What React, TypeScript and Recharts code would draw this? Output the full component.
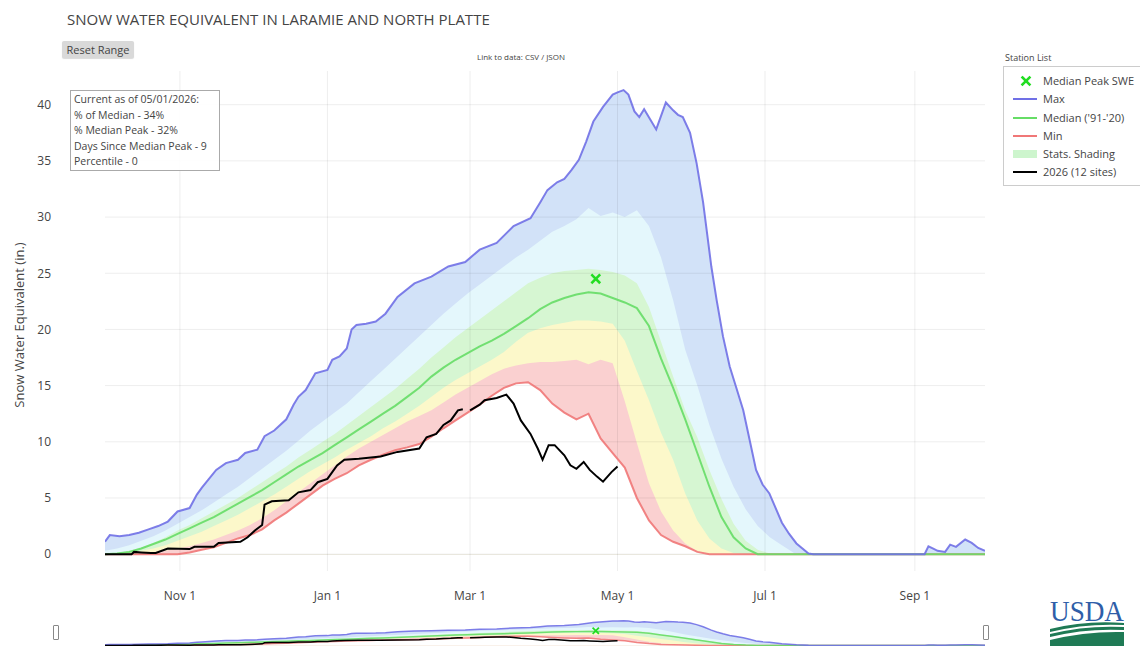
import React from 'react';
import { ComposedChart, Area, Line, Scatter, XAxis, YAxis, ReferenceLine } from 'recharts';

// ---- x: day index from Oct 1 ----
const tickDays = [31, 92, 151, 212, 273, 335];
const tickLabels = ['Nov 1', 'Jan 1', 'Mar 1', 'May 1', 'Jul 1', 'Sep 1'];
const yTicks = [0, 5, 10, 15, 20, 25, 30, 35, 40];

const statDays = [0,5,10,15,20,25,30,35,40,45,50,55,60,65,70,75,80,85,90,95,100,105,110,115,120,125,130,135,140,145,150,155,160,165,170,175,180,185,190,195,200,205,210,215,220,225,230,235,240,245,250,255,260,265,270,275,280,285,290,295,300,305,310,315,320,325,330,335,340,345,350,355,360,364];

const medianVals = [0,0.05,0.2,0.5,0.9,1.3,1.8,2.3,2.8,3.3,3.9,4.5,5.1,5.7,6.4,7.1,7.8,8.4,9.0,9.7,10.4,11.1,11.8,12.5,13.2,14.0,14.8,15.8,16.6,17.3,17.9,18.5,19.0,19.6,20.3,21.0,21.8,22.4,22.8,23.1,23.3,23.2,22.8,22.4,21.9,20.3,17.4,14.8,12.0,9.0,6.0,3.3,1.5,0.5,0,0,0,0,0,0,0,0,0,0,0,0,0,0,0,0,0,0,0,0];
const minVals = [0,0,0,0,0,0,0,0.15,0.4,0.6,1.0,1.4,1.7,2.2,3.0,3.7,4.5,5.3,6.1,6.7,7.2,7.9,8.4,8.85,9.25,9.5,9.8,10.45,11.2,11.9,12.6,13.3,14.1,14.8,15.2,15.3,14.6,13.4,12.6,12.0,12.5,10.3,9.0,7.7,5.0,3.0,1.7,1.1,0.7,0.2,0,0,0,0,0,0,0,0,0,0,0,0,0,0,0,0,0,0,0,0,0,0,0,0];
const p10Vals = [0,0,0.05,0.1,0.2,0.3,0.5,0.7,1.0,1.3,1.7,2.1,2.6,3.2,3.9,4.7,5.5,6.3,7.1,7.9,8.7,9.4,10.0,10.6,11.2,11.8,12.3,12.8,13.5,14.2,14.8,15.4,16.0,16.5,16.8,17.0,17.1,17.1,17.2,17.3,16.9,17.3,17.0,13.6,9.9,6.3,3.8,2.1,0.95,0.25,0,0,0,0,0,0,0,0,0,0,0,0,0,0,0,0,0,0,0,0,0,0,0,0];
const p30Vals = [0,0,0.1,0.3,0.5,0.8,1.2,1.6,2.0,2.5,3.0,3.5,4.1,4.7,5.3,6.0,6.7,7.4,8.0,8.6,9.3,9.9,10.5,11.2,11.8,12.5,13.2,14.0,14.8,15.5,16.1,16.7,17.3,18.0,18.9,19.7,20.1,20.4,20.6,20.8,20.8,20.7,20.5,19.0,16.3,13.7,10.8,8.4,5.4,3.0,1.4,0.5,0.1,0,0,0,0,0,0,0,0,0,0,0,0,0,0,0,0,0,0,0,0,0];
const p70Vals = [0.05,0.1,0.3,0.6,1.0,1.5,2.1,2.6,3.2,3.8,4.4,5.0,5.7,6.4,7.1,7.8,8.6,9.3,10.0,10.7,11.5,12.3,13.1,13.9,14.7,15.6,16.5,17.5,18.4,19.3,20.1,20.9,21.7,22.5,23.3,24.1,24.6,25.0,25.2,25.3,25.4,25.3,25.1,24.8,24.1,22.0,18.9,15.8,12.8,10.4,7.5,4.9,2.7,1.2,0.4,0.05,0,0,0,0,0,0,0,0,0,0,0,0,0,0,0,0,0,0];
const p90Vals = [0.3,0.5,0.8,1.2,1.6,2.1,2.7,3.3,3.9,4.6,5.3,6.0,6.8,7.6,8.4,9.2,10.1,11.0,11.8,12.6,13.4,14.4,15.4,16.4,17.4,18.4,19.4,20.4,21.4,22.3,23.2,24.0,24.8,25.6,26.4,27.1,27.9,28.7,29.2,29.8,30.8,30.1,30.4,30.0,30.6,29.2,26.4,22.6,18.2,15.0,11.5,8.5,6.0,4.0,2.5,1.5,0.8,0.1,0,0,0,0,0,0,0,0,0,0,0,0,0,0,0,0];

const maxDays = [0,2,6,10,14,18,22,26,30,35,38,40,43,46,50,55,58,63,66,70,75,78,80,83,87,92,94,97,100,102,104,108,112,116,121,128,135,142,149,155,162,169,176,180,183,187,190,193,196,199,202,206,210,212,214.5,216.5,219,221,223,228,232,235,237,239,242,244.7,247.4,250.8,253,255.6,258.4,261,264,266.6,269.3,272,274.8,280,283,286,291,293,339,340.6,342.6,344.4,347.5,349.6,352,355.8,358.5,361.2,364];
const maxVals = [1.1,1.7,1.6,1.7,1.9,2.2,2.5,2.9,3.8,4.1,5.3,5.9,6.7,7.5,8.1,8.4,9.0,9.3,10.5,11.0,12.0,13.3,14.0,14.6,16.1,16.4,17.3,17.6,18.3,20.0,20.4,20.5,20.7,21.4,22.9,24.1,24.7,25.6,26.0,27.1,27.7,29.2,29.9,31.3,32.4,33.1,33.4,34.2,35.1,36.7,38.5,39.8,40.9,41.1,41.3,40.9,39.4,38.9,39.6,37.8,40.2,39.5,39.1,38.9,37.5,34.8,31.3,25.6,22.6,19.4,16.7,14.9,12.8,10.2,7.5,6.2,5.4,2.8,1.8,0.95,0.06,0,0,0.7,0.5,0.3,0.2,0.85,0.65,1.3,1.0,0.55,0.3];

const curDays = [0,11,12,15,19,21,26,35,37,45,47,56,59,62,65,66,69,76,80,85,88,92,94,96,99,105,114,121,130,133,137,140,143,146,148,149.5,151,155,157,162,166,169,172,176,179,181,183.5,186,190,192.5,195,198,200.5,203.5,206,209.5,212];
const curVals: (number | null)[] = [0,0,0.2,0.15,0.1,0.1,0.5,0.45,0.65,0.65,1.0,1.1,1.5,2.1,2.6,4.4,4.7,4.8,5.5,5.7,6.4,6.7,7.3,7.9,8.4,8.5,8.7,9.1,9.4,10.4,10.7,11.5,11.9,12.8,12.9,null,12.8,13.3,13.7,13.9,14.2,13.4,11.9,10.7,9.4,8.4,9.7,9.7,8.8,7.9,7.6,8.2,7.5,6.9,6.45,7.3,7.8];

const peakDay = [203];
const peakVal = [24.5];

const infoLines = ['Current as of 05/01/2026:', '% of Median - 34%', '% Median Peak - 32%', 'Days Since Median Peak - 9', 'Percentile - 0'];

const C = {
  max: '#7070e6',
  median: '#66dd66',
  min: '#f07777',
  cur: '#000000',
  peak: '#22dd22',
  bMax: '#d2e2f8',
  b90: '#e4f7fc',
  b70: '#d6f6d2',
  b30: '#fcf8ca',
  b10: '#fad0d0',
  text: '#444',
};

const rows = (xs: number[], ys: (number | null)[]) => xs.map((d, i) => ({ d, v: ys[i] }));

const XMark = (props: any) => {
  const { cx, cy, s = 3.5, w = 2.6 } = props;
  if (cx == null || cy == null) return null;
  return (
    <g stroke={C.peak} strokeWidth={w} strokeLinecap="square">
      <line x1={cx - s} y1={cy - s} x2={cx + s} y2={cy + s} />
      <line x1={cx - s} y1={cy + s} x2={cx + s} y2={cy - s} />
    </g>
  );
};
const XMarkSmall = (props: any) => <XMark {...props} s={2.5} w={1.8} />;

const bandAreas = (key: string) => [
  <Area key={key + 'a1'} data={rows(maxDays, maxVals)} dataKey="v" type="linear" baseValue={0} stroke="none" fill={C.bMax} fillOpacity={1} isAnimationActive={false} activeDot={false} />,
  <Area key={key + 'a2'} data={rows(statDays, p90Vals)} dataKey="v" type="linear" baseValue={0} stroke="none" fill={C.b90} fillOpacity={1} isAnimationActive={false} activeDot={false} />,
  <Area key={key + 'a3'} data={rows(statDays, p70Vals)} dataKey="v" type="linear" baseValue={0} stroke="none" fill={C.b70} fillOpacity={1} isAnimationActive={false} activeDot={false} />,
  <Area key={key + 'a4'} data={rows(statDays, p30Vals)} dataKey="v" type="linear" baseValue={0} stroke="none" fill={C.b30} fillOpacity={1} isAnimationActive={false} activeDot={false} />,
  <Area key={key + 'a5'} data={rows(statDays, p10Vals)} dataKey="v" type="linear" baseValue={0} stroke="none" fill={C.b10} fillOpacity={1} isAnimationActive={false} activeDot={false} />,
  <Area key={key + 'a6'} data={rows(statDays, minVals)} dataKey="v" type="linear" baseValue={0} stroke="none" fill="#ffffff" fillOpacity={1} isAnimationActive={false} activeDot={false} />,
];

const seriesLines = (key: string, w: number) => [
  <Line key={key + 'l1'} data={rows(statDays, minVals)} dataKey="v" type="linear" stroke={C.min} strokeWidth={w} strokeOpacity={0.9} dot={false} activeDot={false} isAnimationActive={false} />,
  <Line key={key + 'l2'} data={rows(statDays, medianVals)} dataKey="v" type="linear" stroke={C.median} strokeWidth={w} strokeOpacity={0.9} dot={false} activeDot={false} isAnimationActive={false} />,
  <Line key={key + 'l3'} data={rows(maxDays, maxVals)} dataKey="v" type="linear" stroke={C.max} strokeWidth={w} strokeOpacity={0.9} dot={false} activeDot={false} isAnimationActive={false} />,
  <Line key={key + 'l4'} data={rows(curDays, curVals)} dataKey="v" type="linear" stroke={C.cur} strokeWidth={w} connectNulls={false} dot={false} activeDot={false} isAnimationActive={false} />,
];

const legendItems = [
  { label: 'Median Peak SWE', kind: 'x' },
  { label: 'Max', kind: 'line', color: C.max, w: 2 },
  { label: "Median ('91-'20)", kind: 'line', color: C.median, w: 2 },
  { label: 'Min', kind: 'line', color: C.min, w: 2 },
  { label: 'Stats. Shading', kind: 'line', color: '#cdf5cd', w: 8 },
  { label: '2026 (12 sites)', kind: 'line', color: '#000', w: 2 },
];

export default function App() {
  const font = "'Open Sans', 'Noto Sans', sans-serif";
  return (
    <div style={{ position: 'absolute', left: 0, top: 0, width: 1140, height: 646, background: '#fff', fontFamily: font, color: C.text, overflow: 'hidden' }}>
      <ComposedChart width={1140} height={646} margin={{ top: 71, right: 155, bottom: 45, left: 45 }} style={{ position: 'absolute', left: 0, top: 0 }}>
        <XAxis type="number" dataKey="d" domain={[0, 364]} ticks={tickDays} allowDataOverflow
          tickFormatter={(v: number) => tickLabels[tickDays.indexOf(v)]}
          axisLine={false} tickLine={false} tickMargin={14} height={30}
          tick={{ fill: C.text, fontSize: 12, fontFamily: font }} interval={0} />
        <YAxis type="number" dataKey="v" domain={[-1.5, 43]} ticks={yTicks} allowDataOverflow
          axisLine={false} tickLine={false} width={60} tickMargin={48}
          tick={{ fill: C.text, fontSize: 12, fontFamily: font }} interval={0} />
        {bandAreas('m')}
        {yTicks.map((t) => <ReferenceLine key={'gy' + t} y={t} stroke="#000" strokeOpacity={0.07} strokeWidth={1} />)}
        {tickDays.map((t) => <ReferenceLine key={'gx' + t} x={t} stroke="#000" strokeOpacity={0.07} strokeWidth={1} />)}
        {seriesLines('m', 2)}
        <Scatter data={rows(peakDay, peakVal)} dataKey="v" shape={XMark} isAnimationActive={false} />
      </ComposedChart>

      {/* range slider miniature */}
      <ComposedChart width={880} height={34} margin={{ top: 0, right: 0, bottom: 0, left: 0 }} style={{ position: 'absolute', left: 105, top: 612 }}>
        <XAxis type="number" dataKey="d" domain={[0, 364]} hide allowDataOverflow />
        <YAxis type="number" dataKey="v" domain={[-1, 56]} hide allowDataOverflow />
        {bandAreas('s')}
        {seriesLines('s', 1.5)}
        <Scatter data={rows(peakDay, peakVal)} dataKey="v" shape={XMarkSmall} isAnimationActive={false} />
      </ComposedChart>
      <div style={{ position: 'absolute', left: 53, top: 625, width: 4, height: 13, border: '1px solid #888', borderRadius: 1, background: '#fff' }} />
      <div style={{ position: 'absolute', left: 983, top: 625, width: 4, height: 13, border: '1px solid #888', borderRadius: 1, background: '#fff' }} />

      {/* title etc */}
      <div style={{ position: 'absolute', left: 67, top: 9, fontSize: 15, whiteSpace: 'nowrap', color: '#444' }}>SNOW WATER EQUIVALENT IN LARAMIE AND NORTH PLATTE</div>
      <div style={{ position: 'absolute', left: 62, top: 41, width: 72, height: 17, background: '#d9d9d9', borderRadius: 2, fontSize: 11, lineHeight: '17px', textAlign: 'center', boxShadow: '0 1px 1px rgba(0,0,0,0.15)' }}>Reset Range</div>
      <div style={{ position: 'absolute', left: 421, width: 200, top: 51, fontSize: 8, textAlign: 'center', whiteSpace: 'nowrap' }}>Link to data: CSV / JSON</div>

      {/* y label */}
      <svg style={{ position: 'absolute', left: 0, top: 0 }} width={40} height={646}>
        <text x={19} y={325} transform="rotate(-90, 19, 325)" textAnchor="middle" dominantBaseline="central" fontSize={13} fill={C.text} fontFamily={font}>Snow Water Equivalent (in.)</text>
      </svg>

      {/* info box */}
      <div style={{ position: 'absolute', left: 70, top: 90, width: 150, height: 81, boxSizing: 'border-box', border: '1px solid #aaa', background: 'rgba(255,255,255,0.9)', padding: '1px 3px', fontSize: 10.5, lineHeight: '15.5px', whiteSpace: 'nowrap' }}>
        {infoLines.map((l) => <div key={l}>{l}</div>)}
      </div>

      {/* legend */}
      <div style={{ position: 'absolute', left: 1005, top: 51, fontSize: 9, whiteSpace: 'nowrap' }}>Station List</div>
      <div style={{ position: 'absolute', left: 1003, top: 66, width: 140, height: 120, boxSizing: 'border-box', border: '1px solid #ccc', background: '#fff', paddingTop: 5 }}>
        {legendItems.map((it) => (
          <div key={it.label} style={{ position: 'relative', height: 18.3, whiteSpace: 'nowrap' }}>
            <svg width={30} height={18} style={{ position: 'absolute', left: 6, top: 0 }}>
              {it.kind === 'x' ? (
                <g stroke={C.peak} strokeWidth={2.6} strokeLinecap="square">
                  <line x1={12.5} y1={5.5} x2={19.5} y2={12.5} />
                  <line x1={12.5} y1={12.5} x2={19.5} y2={5.5} />
                </g>
              ) : (
                <line x1={3} y1={9} x2={27} y2={9} stroke={it.color} strokeWidth={it.w} />
              )}
            </svg>
            <div style={{ position: 'absolute', left: 39, top: 0, fontSize: 11, lineHeight: '18px' }}>{it.label}</div>
          </div>
        ))}
      </div>

      {/* USDA logo */}
      <svg style={{ position: 'absolute', left: 1044, top: 584 }} width={90} height={62}>
        <text x={6} y={37} fontSize={30} fill="#2f5ea8" fontFamily="'Liberation Serif', 'DejaVu Serif', serif" textLength={74} lengthAdjust="spacingAndGlyphs">USDA</text>
        <path d="M6,45 Q42,36 80,39 L80,41 Q42,39 6,48 Z" fill="#1f7a55" />
        <path d="M6,50 Q42,41 80,43 L80,46 Q42,44 6,53 Z" fill="#1f7a55" />
        <path d="M6,56 Q42,47 80,48 L80,62 L6,62 Z" fill="#1f7a55" />
      </svg>
    </div>
  );
}
